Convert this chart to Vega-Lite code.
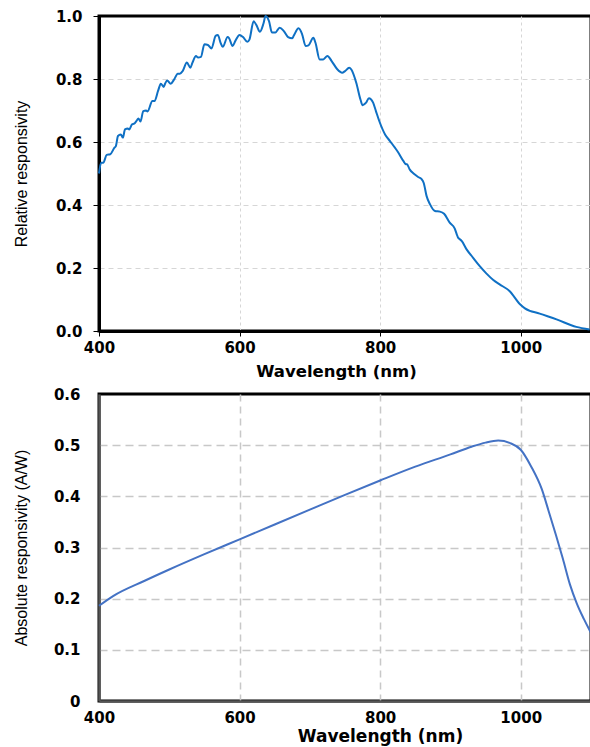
{
  "$schema": "https://vega.github.io/schema/vega-lite/v6.json",
  "padding": {"left": 11, "top": 7, "right": 0, "bottom": 0},
  "background": "white",
  "bounds": "flush",
  "spacing": 63,
  "datasets": {
    "rel": [
      {"wl": 400, "r": 0.50}, {"wl": 403, "r": 0.534}, {"wl": 406, "r": 0.534}, {"wl": 411, "r": 0.559},
      {"wl": 416, "r": 0.561}, {"wl": 422, "r": 0.582}, {"wl": 424, "r": 0.587}, {"wl": 427, "r": 0.619},
      {"wl": 431, "r": 0.624}, {"wl": 434, "r": 0.614}, {"wl": 437, "r": 0.640}, {"wl": 441, "r": 0.643},
      {"wl": 443, "r": 0.640}, {"wl": 447, "r": 0.656}, {"wl": 450, "r": 0.658}, {"wl": 454, "r": 0.669},
      {"wl": 456, "r": 0.675}, {"wl": 459, "r": 0.665}, {"wl": 463, "r": 0.698}, {"wl": 467, "r": 0.700},
      {"wl": 469, "r": 0.697}, {"wl": 476, "r": 0.730}, {"wl": 479, "r": 0.730}, {"wl": 484, "r": 0.762},
      {"wl": 488, "r": 0.785}, {"wl": 492, "r": 0.775}, {"wl": 494, "r": 0.785}, {"wl": 497, "r": 0.795},
      {"wl": 502, "r": 0.785}, {"wl": 507, "r": 0.799}, {"wl": 512, "r": 0.817}, {"wl": 515, "r": 0.817},
      {"wl": 519, "r": 0.825}, {"wl": 525, "r": 0.852}, {"wl": 530, "r": 0.836}, {"wl": 533, "r": 0.852},
      {"wl": 538, "r": 0.873}, {"wl": 541, "r": 0.868}, {"wl": 545, "r": 0.870}, {"wl": 550, "r": 0.910},
      {"wl": 555, "r": 0.908}, {"wl": 560, "r": 0.897}, {"wl": 566, "r": 0.937}, {"wl": 569, "r": 0.940},
      {"wl": 573, "r": 0.915}, {"wl": 576, "r": 0.902}, {"wl": 583, "r": 0.933}, {"wl": 585, "r": 0.930},
      {"wl": 590, "r": 0.905}, {"wl": 594, "r": 0.921}, {"wl": 600, "r": 0.940}, {"wl": 605, "r": 0.933},
      {"wl": 611, "r": 0.918}, {"wl": 614, "r": 0.925}, {"wl": 620, "r": 0.983}, {"wl": 624, "r": 0.971},
      {"wl": 629, "r": 0.950}, {"wl": 634, "r": 0.976}, {"wl": 637, "r": 1.000}, {"wl": 642, "r": 0.983},
      {"wl": 646, "r": 0.948}, {"wl": 651, "r": 0.948}, {"wl": 657, "r": 0.963}, {"wl": 663, "r": 0.952},
      {"wl": 669, "r": 0.933}, {"wl": 675, "r": 0.929}, {"wl": 677, "r": 0.937}, {"wl": 684, "r": 0.961},
      {"wl": 689, "r": 0.942}, {"wl": 694, "r": 0.905}, {"wl": 698, "r": 0.907}, {"wl": 705, "r": 0.931},
      {"wl": 708, "r": 0.915}, {"wl": 714, "r": 0.862}, {"wl": 719, "r": 0.862}, {"wl": 725, "r": 0.873},
      {"wl": 731, "r": 0.857}, {"wl": 739, "r": 0.831}, {"wl": 746, "r": 0.820}, {"wl": 750, "r": 0.825},
      {"wl": 756, "r": 0.836}, {"wl": 759, "r": 0.830}, {"wl": 766, "r": 0.788}, {"wl": 772, "r": 0.735},
      {"wl": 775, "r": 0.717}, {"wl": 780, "r": 0.725}, {"wl": 784, "r": 0.739}, {"wl": 790, "r": 0.725},
      {"wl": 794, "r": 0.698}, {"wl": 799, "r": 0.665}, {"wl": 807, "r": 0.624}, {"wl": 814, "r": 0.603},
      {"wl": 821, "r": 0.582}, {"wl": 826, "r": 0.566}, {"wl": 833, "r": 0.540}, {"wl": 837, "r": 0.529},
      {"wl": 838, "r": 0.530}, {"wl": 842, "r": 0.513}, {"wl": 848, "r": 0.499}, {"wl": 854, "r": 0.489},
      {"wl": 859, "r": 0.482}, {"wl": 862, "r": 0.470}, {"wl": 866, "r": 0.429}, {"wl": 871, "r": 0.402},
      {"wl": 878, "r": 0.381}, {"wl": 885, "r": 0.379}, {"wl": 891, "r": 0.372}, {"wl": 899, "r": 0.344},
      {"wl": 906, "r": 0.326}, {"wl": 909, "r": 0.307}, {"wl": 911, "r": 0.296}, {"wl": 913, "r": 0.292},
      {"wl": 916, "r": 0.286}, {"wl": 923, "r": 0.259}, {"wl": 932, "r": 0.233}, {"wl": 942, "r": 0.205},
      {"wl": 951, "r": 0.183}, {"wl": 961, "r": 0.162}, {"wl": 970, "r": 0.148}, {"wl": 984, "r": 0.127},
      {"wl": 999, "r": 0.085}, {"wl": 1006, "r": 0.072}, {"wl": 1027, "r": 0.055}, {"wl": 1051, "r": 0.037},
      {"wl": 1079, "r": 0.013}, {"wl": 1098, "r": 0.005}
    ],
    "abs": [
      {"wl": 400, "a": 0.186}, {"wl": 420, "a": 0.205}, {"wl": 465, "a": 0.235}, {"wl": 500, "a": 0.257},
      {"wl": 550, "a": 0.287}, {"wl": 600, "a": 0.316}, {"wl": 650, "a": 0.345}, {"wl": 700, "a": 0.374},
      {"wl": 750, "a": 0.403}, {"wl": 800, "a": 0.431}, {"wl": 850, "a": 0.458}, {"wl": 900, "a": 0.482},
      {"wl": 930, "a": 0.497}, {"wl": 950, "a": 0.505}, {"wl": 968, "a": 0.509}, {"wl": 985, "a": 0.504},
      {"wl": 1000, "a": 0.491}, {"wl": 1015, "a": 0.458}, {"wl": 1030, "a": 0.414}, {"wl": 1040, "a": 0.370},
      {"wl": 1050, "a": 0.325}, {"wl": 1060, "a": 0.278}, {"wl": 1070, "a": 0.228}, {"wl": 1080, "a": 0.190},
      {"wl": 1090, "a": 0.160}, {"wl": 1100, "a": 0.133}
    ]
  },
  "vconcat": [
    {
      "width": 492,
      "height": 315,
      "data": {"name": "rel"},
      "view": {"stroke": "black", "strokeWidth": 3},
      "mark": {"type": "line", "color": "#0f70c4", "strokeWidth": 2, "interpolate": "monotone"},
      "encoding": {
        "x": {
          "field": "wl", "type": "quantitative",
          "scale": {"domain": [400, 1100], "nice": false, "zero": false},
          "axis": {
            "title": "Wavelength (nm)", "values": [400, 600, 800, 1000], "format": "d", "labelFlush": false,
            "titleFont": "DejaVu Sans", "titleFontWeight": "bold", "titleFontSize": 16.5, "titleColor": "black",
            "titlePadding": 8, "titleX": 237,
            "labelFont": "DejaVu Sans", "labelFontWeight": "bold", "labelFontSize": 15, "labelColor": "black",
            "labelPadding": 4, "tickSize": 5, "tickColor": "black", "tickWidth": 1,
            "domainColor": "black", "domainWidth": 3,
            "grid": true, "gridColor": "#d6d6d6", "gridDash": [3, 3], "gridWidth": 1,
            "gridOpacity": {"condition": {"test": "datum.value == 400", "value": 0}, "value": 1}
          }
        },
        "y": {
          "field": "r", "type": "quantitative",
          "scale": {"domain": [0, 1], "nice": false},
          "axis": {
            "title": "Relative responsivity", "values": [0, 0.2, 0.4, 0.6, 0.8, 1.0], "format": ".1f",
            "titleFont": "Liberation Sans", "titleFontWeight": "normal", "titleFontSize": 16, "titleColor": "black",
            "titlePadding": 26,
            "labelFont": "DejaVu Sans", "labelFontWeight": "bold", "labelFontSize": 15, "labelColor": "black",
            "labelPadding": 11, "tickSize": 6, "tickColor": "black", "tickWidth": 1,
            "domainColor": "black", "domainWidth": 3,
            "grid": true, "gridColor": "#d6d6d6", "gridDash": [5, 4], "gridWidth": 1,
            "gridOpacity": {"condition": {"test": "datum.value == 0 || datum.value == 1", "value": 0}, "value": 1}
          }
        }
      }
    },
    {
      "width": 492,
      "height": 307,
      "data": {"name": "abs"},
      "view": {"stroke": "black", "strokeWidth": 3},
      "mark": {"type": "line", "color": "#4472c4", "strokeWidth": 2, "interpolate": "monotone"},
      "encoding": {
        "x": {
          "field": "wl", "type": "quantitative",
          "scale": {"domain": [400, 1100], "nice": false, "zero": false},
          "axis": {
            "title": "Wavelength (nm)", "values": [400, 600, 800, 1000], "format": "d", "labelFlush": false,
            "titleFont": "DejaVu Sans", "titleFontWeight": "bold", "titleFontSize": 17, "titleColor": "black",
            "titlePadding": 3, "titleX": 281,
            "labelFont": "DejaVu Sans", "labelFontWeight": "bold", "labelFontSize": 15, "labelColor": "black",
            "labelPadding": 9, "ticks": false,
            "domainColor": "#555555", "domainWidth": 2.5,
            "grid": true, "gridColor": "#c8c8c8", "gridDash": [7, 5], "gridWidth": 1.5,
            "gridOpacity": {"condition": {"test": "datum.value == 400", "value": 0}, "value": 1}
          }
        },
        "y": {
          "field": "a", "type": "quantitative",
          "scale": {"domain": [0, 0.6], "nice": false},
          "axis": {
            "title": "Absolute responsivity (A/W)", "values": [0, 0.1, 0.2, 0.3, 0.4, 0.5, 0.6],
            "labelExpr": "datum.value == 0 ? '0' : format(datum.value, '.1f')",
            "titleFont": "Liberation Sans", "titleFontWeight": "normal", "titleFontSize": 16, "titleColor": "black",
            "titlePadding": 24,
            "labelFont": "DejaVu Sans", "labelFontWeight": "bold", "labelFontSize": 15, "labelColor": "black",
            "labelPadding": 19, "ticks": false,
            "domainColor": "#555555", "domainWidth": 2.5,
            "grid": true, "gridColor": "#c8c8c8", "gridDash": [8, 5], "gridWidth": 1.5,
            "gridOpacity": {"condition": {"test": "datum.value < 0.05 || datum.value > 0.55", "value": 0}, "value": 1}
          }
        }
      }
    }
  ]
}
